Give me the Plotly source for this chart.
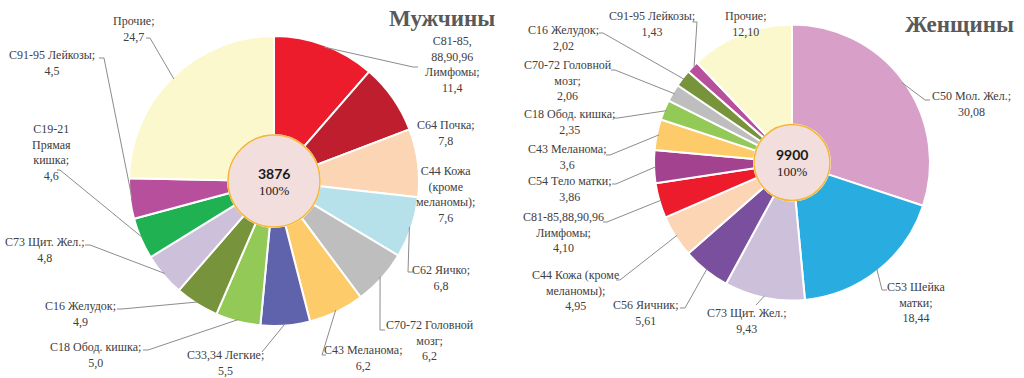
import math
import plotly.graph_objects as go

# ---------------- data ----------------
men_names = ["C81-85,<br>88,90,96<br>Лимфомы;", "C64 Почка;", "C44 Кожа<br>(кроме<br>меланомы);",
             "C62 Яичко;", "C70-72 Головной<br>мозг;", "C43 Меланома;", "C33,34 Легкие;",
             "C18 Обод. кишка;", "C16 Желудок;", "C73 Щит. Жел.;", "C19-21<br>Прямая<br>кишка;",
             "C91-95 Лейкозы;", "Прочие;"]
men_values = [11.4, 7.8, 7.6, 6.8, 6.2, 6.2, 5.5, 5.0, 4.9, 4.8, 4.6, 4.5, 24.7]
men_decimals = [1] * 13
men_total = 3876

women_names = ["C50 Мол. Жел.;", "C53 Шейка<br>матки;", "C73 Щит. Жел.;", "C56 Яичник;",
               "C44 Кожа (кроме<br>меланомы);", "C81-85,88,90,96<br>Лимфомы;", "C54 Тело матки;",
               "C43 Меланома;", "C18 Обод. кишка;", "C70-72 Головной<br>мозг;", "C16 Желудок;",
               "C91-95 Лейкозы;", "Прочие;"]
women_values = [30.08, 18.44, 9.43, 5.61, 4.95, 4.10, 3.86, 3.6, 2.35, 2.06, 2.02, 1.43, 12.10]
women_decimals = [2, 2, 2, 2, 2, 2, 2, 1, 2, 2, 2, 2, 2]
women_total = 9900

# ---------------- styles ----------------
men_colors = ["#EC1C2D", "#BE1E2D", "#FCD5B4", "#B7E1EA", "#BEBEBE", "#FECB6B", "#5E63AB",
              "#92C957", "#77933C", "#CCC0DA", "#20B153", "#B84F9C", "#FCF8CE"]
women_colors = ["#D8A0C8", "#29ADE0", "#CCC0DA", "#7A4F9E", "#FCD5B4", "#EC1C2D", "#A3428F",
                "#FECB6B", "#92C957", "#BEBEBE", "#77933C", "#B84F9C", "#FCF8CE"]

W, H = 1024, 378
SERIF = "Liberation Serif"
LABEL_FONT = dict(family=SERIF, size=12, color="#404040")
LINE_COLOR = "#8C8C8C"

# pie geometry in pixels (center x, center y, radius, hole radius)
men_geo = (274, 181, 145, 46)
women_geo = (792, 162.5, 138, 38)

# label positions (px) and leader line points (px, from slice edge toward text)
men_label_pos = [(452, 64), (446, 133), (445, 194), (441, 278), (430, 340), (363, 358), (225, 363),
                 (95, 355), (80, 314), (45, 250), (51, 152), (52, 63), (133, 29)]
men_leaders = [[(413, 67), (418, 67)], None, None, [(408, 272), (413, 272)], [(380, 330), (385, 330)],
               [(322, 355), (326, 355)], [(262, 352)], [(148, 350), (143, 350)],
               [(122, 309), (117, 309)], [(90, 245), (85, 245)], [(60, 170), (57, 170)],
               [(104, 58), (99, 58)], [(150, 38), (146, 38)]]

women_label_pos = [(971, 104), (916, 302), (747, 321), (645, 313), (575, 290), (563, 232), (570, 189),
                   (567, 157), (569, 122), (568, 80), (563, 38), (652, 24), (745, 24)]
women_leaders = [[(925, 100), (930, 100)], [(882, 290), (887, 290)], [(756, 305)],
                 [(685, 308), (680, 308)], [(620, 280), (616, 280)], [(607, 222), (603, 222)],
                 [(616, 184), (612, 184)], [(610, 155), (606, 155)], [(618, 118), (614, 118)],
                 [(615, 70), (611, 70)], [(603, 33), (599, 33)], [(697, 22), (693, 22)], None]


def px(x):
    return x / W


def py(y):
    return 1 - y / H


fig = go.Figure()
shapes = []
annotations = []


def text_at(x, y, text, font):
    annotations.append(dict(
        x=px(x), y=py(y), xref="paper", yref="paper", text=text, showarrow=False,
        xanchor="center", yanchor="middle", align="center", font=font,
    ))


def add_pie(names, values, decimals, colors, geo, label_pos, leaders, total):
    cx, cy, r, hr = geo
    fig.add_trace(go.Pie(
        labels=[n.replace("<br>", " ") for n in names],
        values=values,
        sort=False,
        direction="clockwise",
        rotation=0,
        hole=hr / r,
        marker=dict(colors=colors, line=dict(color="white", width=2)),
        textinfo="none",
        hoverinfo="label+value",
        showlegend=False,
        domain=dict(x=[px(cx - r), px(cx + r)], y=[py(cy + r), py(cy - r)]),
    ))
    s = sum(values)
    cum = 0.0
    for i, v in enumerate(values):
        theta = 2 * math.pi * (cum + v / 2) / s
        cum += v
        ex = cx + (r - 2) * math.sin(theta)
        ey = cy - (r - 2) * math.cos(theta)
        valtxt = f"{v:.{decimals[i]}f}".replace(".", ",")
        lx, ly = label_pos[i]
        text_at(lx, ly, names[i] + "<br>" + valtxt, LABEL_FONT)
        if leaders[i]:
            pts = [(ex, ey)] + leaders[i]
            path = "M " + " L ".join(f"{px(x):.5f},{py(y):.5f}" for x, y in pts)
            shapes.append(dict(type="path", path=path, xref="paper", yref="paper",
                               line=dict(color=LINE_COLOR, width=1)))
    # centre disc
    shapes.append(dict(type="circle", xref="paper", yref="paper",
                       x0=px(cx - hr), x1=px(cx + hr), y0=py(cy + hr), y1=py(cy - hr),
                       fillcolor="#F3DEDE", line=dict(color="#F5B731", width=1.5)))
    text_at(cx, cy - 8, f"<b>{total}</b>", dict(family="Lato", size=14, color="#1a1a1a"))
    text_at(cx, cy + 9, "100%", dict(family=SERIF, size=13, color="#1a1a1a"))


add_pie(men_names, men_values, men_decimals, men_colors, men_geo, men_label_pos, men_leaders, men_total)
add_pie(women_names, women_values, women_decimals, women_colors, women_geo, women_label_pos,
        women_leaders, women_total)

TITLE_FONT = dict(family=SERIF, size=23, color="#595959")
text_at(442, 18, "<b>Мужчины</b>", TITLE_FONT)
text_at(959, 24, "<b>Женщины</b>", TITLE_FONT)

fig.update_layout(
    width=W, height=H,
    margin=dict(l=0, r=0, t=0, b=0),
    paper_bgcolor="white", plot_bgcolor="white",
    shapes=shapes, annotations=annotations,
)

fig.write_html("out.html", post_script="document.body.style.margin='0';",
               config={"displayModeBar": False})
